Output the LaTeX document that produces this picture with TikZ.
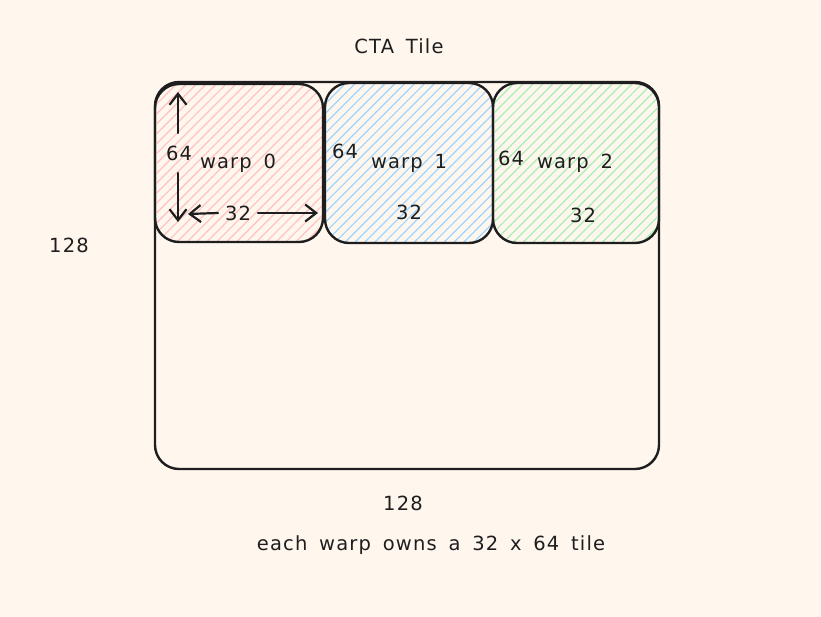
\documentclass[tikz,border=0pt]{standalone}
\usepackage{fontspec}
\setmainfont{DejaVu Sans}[LetterSpace=6,WordSpace=1.6]
\usetikzlibrary{arrows.meta,patterns.meta}
\definecolor{bg}{HTML}{FFF6EE}
\definecolor{ink}{HTML}{1E1E1E}
\definecolor{hpink}{HTML}{FFC2C2}
\definecolor{hblue}{HTML}{9DD4FF}
\definecolor{hgreen}{HTML}{A8EEB2}
\tikzset{
  lbl/.style={font=\fontsize{19.5}{21}\selectfont, text=ink, inner sep=0pt},
  frame/.style={draw=ink, line width=2.4pt, rounded corners=24pt, inner sep=0pt},
  warpbox/.style={frame, minimum width=#1},
  hatch/.style={pattern={Lines[angle=45,distance=7pt,line width=1.2pt]}, pattern color=#1},
  dimarrow/.style={draw=ink, line width=2.2pt, line cap=round, -{Straight Barb[length=11pt,width=17pt,line width=2.2pt]}}
}
\begin{document}
\begin{tikzpicture}[x=1pt,y=-1pt]
\fill[bg] (0,0) rectangle (821,617);
\useasboundingbox (0,0) rectangle (821,617);
\node[lbl] (title) at (399,46) {CTA Tile};
\node[frame, minimum width=504pt, minimum height=387pt] (cta) at (407,275.5) {};
\node[warpbox=168pt, minimum height=158pt, hatch=hpink] (w0) at (239,163) {};
\node[warpbox=168pt, minimum height=160pt, hatch=hblue] (w1) at (409,163) {};
\node[warpbox=166pt, minimum height=160pt, hatch=hgreen] (w2) at (576,163) {};
\node[lbl] (side) at (69,245) {128};
\node[lbl] (bottom) at (403,503) {128};
\node[lbl] (caption) at (431,545) {each warp owns a 32 x 64 tile};
% warp 0
\node[lbl] (h0) at (179,153) {64};
\node[lbl] (n0) at (238,163) {warp 0};
\node[lbl] (b0) at (238,213) {32};
\coordinate (h0top) at (178,92);
\coordinate (h0bot) at (178,222);
\coordinate (b0left) at (188,214);
\coordinate (b0right) at (318,213);
\draw[dimarrow] (178,133) -- (h0top);
\draw[dimarrow] (178,173) -- (h0bot);
\draw[dimarrow] (218,213) -- (b0left);
\draw[dimarrow] (258,213) -- (b0right);
% warp 1
\node[lbl] (h1) at (345,151) {64};
\node[lbl] (n1) at (409,163) {warp 1};
\node[lbl] (b1) at (409,212) {32};
% warp 2
\node[lbl] (h2) at (511,158) {64};
\node[lbl] (n2) at (575,163) {warp 2};
\node[lbl] (b2) at (583,215) {32};
\end{tikzpicture}
\end{document}
